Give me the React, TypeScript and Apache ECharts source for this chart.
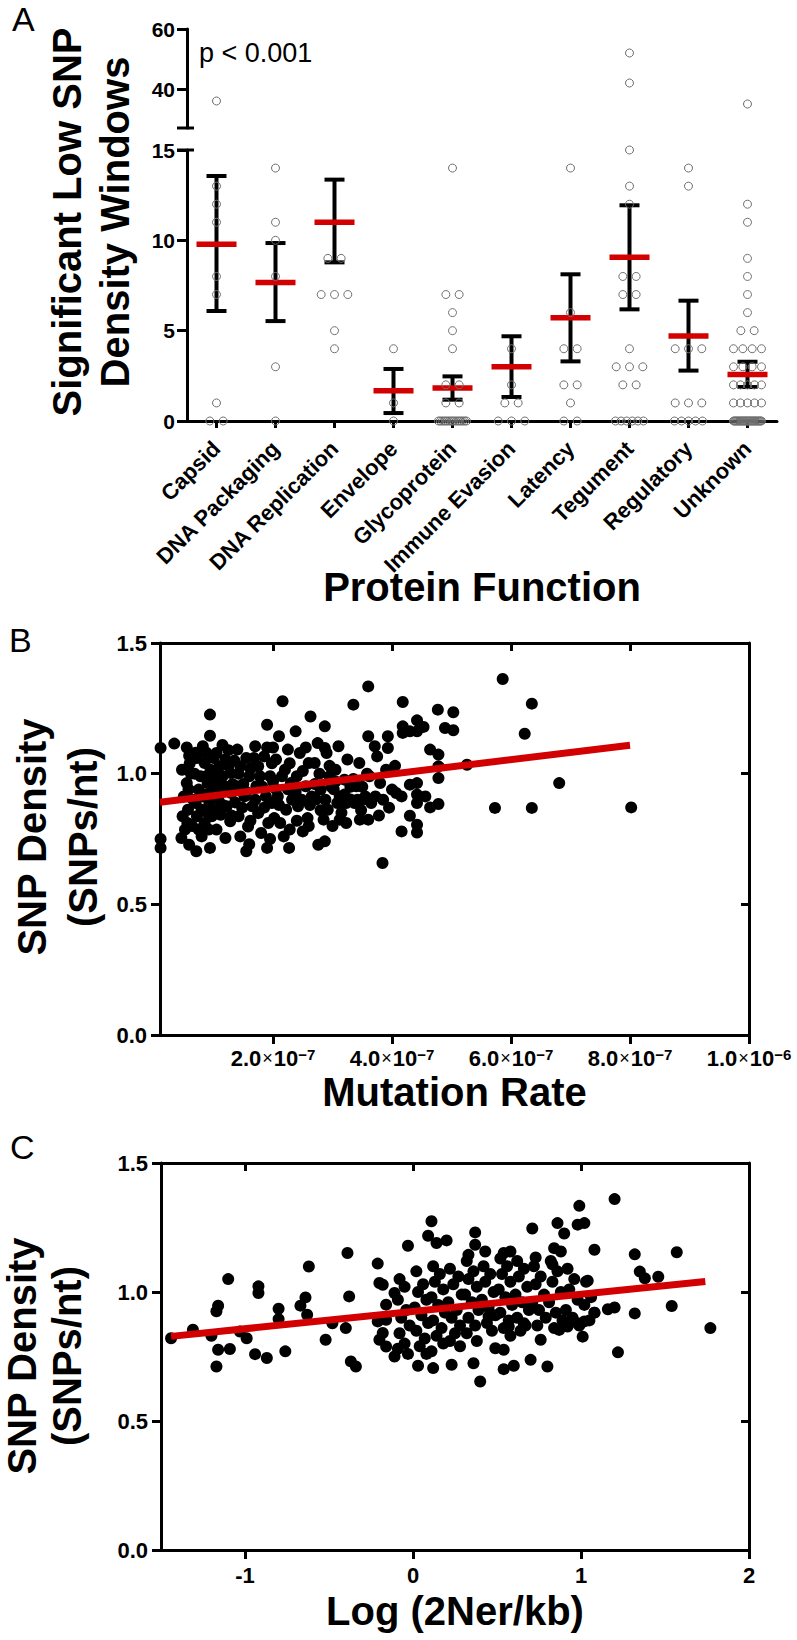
import React, { useEffect, useRef } from 'react';
import * as echarts from 'echarts';

// ---------------- DATA ----------------
const categories = ['Capsid', 'DNA Packaging', 'DNA Replication', 'Envelope', 'Glycoprotein', 'Immune Evasion', 'Latency', 'Tegument', 'Regulatory', 'Unknown'];

const capsid = [36, 13, 12, 11, 8, 7, 1, 0, 0];
const dnaPackaging = [14, 11, 10, 8, 3, 0];
const dnaReplication = [9, 9, 7, 7, 7, 5, 4];
const envelope = [4, 1, 0];
const glycoprotein = [14, 7, 7, 6, 5, 4, 2, 2, 1, 1, 0, 0, 0, 0, 0, 0, 0, 0, 0, 0, 0, 0, 0, 0, 0, 0, 0];
const immuneEvasion = [4, 2, 1, 1, 0, 0, 0];
const latency = [14, 6, 4, 4, 2, 2, 1, 0, 0];
const tegument = [52, 42, 15, 13, 12, 8, 8, 7, 7, 4, 3, 3, 3, 2, 2, 0, 0, 0, 0, 0, 0];
const regulatory = [14, 13, 4, 4, 4, 1, 1, 1, 0, 0, 0, 0, 0];
const unknown = [35, 12, 11, 9, 8, 7, 6, 5, 5, 4, 4, 4, 4, 3, 3, 3, 3, 2, 2, 2, 2, 2, 1, 1, 1, 1, 1,
  0, 0, 0, 0, 0, 0, 0, 0, 0, 0, 0, 0, 0, 0, 0, 0, 0, 0, 0, 0, 0, 0, 0, 0, 0, 0, 0, 0];
const windowCounts = [capsid, dnaPackaging, dnaReplication, envelope, glycoprotein, immuneEvasion, latency, tegument, regulatory, unknown];

const meanValues = [9.78, 7.67, 11.0, 1.67, 1.83, 3.0, 5.72, 9.06, 4.7, 2.58];
const errUpper = [13.56, 9.85, 13.36, 2.88, 2.47, 4.69, 8.12, 11.94, 6.66, 3.28];
const errLower = [6.09, 5.53, 8.78, 0.44, 1.18, 1.33, 3.3, 6.18, 2.79, 1.88];

const aUpperTicks = [40, 60];
const bXTicks = [2, 4, 6, 8, 10]; // units of 1e-7
const cXTicks = [-1, 0, 1, 2];

// Mutation rate (x, in units of 1e-7) vs SNP density
const mutationRatePoints: [number, number][] = [
  [0.11, 1.098], [0.11, 0.75], [0.11, 0.716], [0.34, 1.115], [0.94, 1.226], [0.94, 1.145], [0.82, 1.105], [0.59, 1.069],
  [0.46, 0.754], [0.59, 0.728], [0.71, 0.703], [0.94, 0.716], [1.55, 0.703], [1.9, 0.716], [1.9, 1.187], [2.16, 1.277],
  [2.27, 0.716], [2.38, 1.162], [2.63, 1.219], [2.87, 1.181], [2.87, 1.098], [2.5, 0.779], [2.76, 0.728], [2.87, 0.741],
  [3.35, 1.264], [3.6, 1.334], [3.6, 1.143], [3.84, 0.658], [3.71, 1.105], [3.93, 1.143], [3.93, 1.098], [4.07, 0.926],
  [3.12, 0.824], [3.23, 0.811], [3.46, 0.824], [3.6, 0.824], [3.12, 0.913], [3.23, 0.888], [3.37, 0.888], [3.51, 0.901],
  [5.86, 1.362], [6.35, 1.268], [4.18, 1.274], [4.77, 1.245], [5.03, 1.235], [6.23, 1.153], [4.89, 1.175], [5.03, 1.166],
  [4.42, 1.204], [4.53, 1.179], [4.42, 1.162], [4.18, 1.181], [4.18, 1.156], [4.3, 1.162], [4.64, 1.092], [4.78, 1.073],
  [5.26, 1.034], [4.78, 1.028], [4.78, 0.983], [6.81, 0.964], [4.3, 0.958], [4.42, 0.964], [4.16, 0.913], [4.42, 0.92],
  [4.56, 0.913], [4.42, 0.888], [4.64, 0.871], [4.78, 0.884], [5.73, 0.869], [6.35, 0.869], [8.02, 0.871], [4.3, 0.839],
  [4.42, 0.805], [4.16, 0.779], [4.42, 0.775],
  [0.47, 1.015], [0.55, 0.964], [0.5, 0.913], [0.57, 0.862], [0.48, 0.837], [0.56, 0.811], [0.52, 0.786], [0.6, 1.04], [0.58, 0.94],
  [0.72, 1.06], [0.85, 1.041], [0.95, 1.015], [0.78, 0.99], [0.9, 0.964], [0.75, 0.939], [0.98, 0.939], [0.82, 0.913],
  [0.7, 0.888], [0.93, 0.888], [0.8, 0.862], [0.72, 0.837], [0.97, 0.837], [0.85, 0.811], [0.75, 0.786], [0.92, 0.786],
  [0.8, 0.76], [0.88, 1.08], [1.0, 1.0], [0.68, 1.0],
  [1.05, 1.079], [1.2, 1.054], [1.1, 1.028], [1.28, 1.003], [1.05, 0.977], [1.18, 0.952], [1.3, 0.926], [1.08, 0.901],
  [1.22, 0.875], [1.12, 0.843], [1.28, 0.818], [1.05, 0.786], [1.2, 0.754], [1.15, 0.99], [1.25, 1.09], [1.02, 0.86], [1.32, 0.96],
  [1.4, 1.092], [1.55, 1.06], [1.45, 1.028], [1.6, 0.99], [1.38, 0.952], [1.52, 0.913], [1.65, 0.875], [1.42, 0.837],
  [1.58, 0.798], [1.45, 0.76], [1.62, 1.02], [1.36, 0.89], [1.5, 0.96], [1.6, 0.73],
  [1.7, 1.105], [1.85, 1.066], [1.75, 1.028], [1.95, 0.99], [1.72, 0.952], [1.88, 0.913], [1.98, 0.888], [1.75, 0.849],
  [1.92, 0.811], [1.8, 0.773], [1.7, 0.9], [1.98, 1.04], [1.82, 0.95], [1.95, 0.75],
  [2.1, 1.143], [2.25, 1.092], [2.05, 1.054], [2.2, 1.015], [2.3, 0.964], [2.08, 0.913], [2.22, 0.862], [2.12, 0.811],
  [2.28, 0.786], [2.15, 0.99], [2.05, 0.94], [2.32, 0.9], [2.18, 0.76], [2.02, 0.83],
  [2.45, 1.079], [2.6, 1.041], [2.4, 0.99], [2.55, 0.952], [2.65, 0.913], [2.42, 0.875], [2.58, 0.83], [2.5, 1.01], [2.62, 0.88], [2.38, 0.93],
  [2.75, 1.117], [2.9, 1.079], [2.7, 1.041], [2.95, 0.99], [2.8, 0.939], [2.72, 0.901], [2.92, 0.862], [2.85, 0.824],
  [2.98, 0.95], [2.78, 1.0], [2.88, 0.9],
  [3.1, 1.105], [3.25, 1.054], [3.05, 1.015], [3.2, 0.977], [3.3, 0.901], [3.08, 0.888], [3.15, 0.85], [3.3, 0.95], [3.02, 0.94],
  [3.45, 1.041], [3.62, 0.99], [3.4, 0.952], [3.55, 0.913], [3.65, 0.888], [3.48, 0.86], [3.58, 1.0], [3.42, 0.9],
  [3.75, 1.066], [3.9, 1.015], [3.8, 0.964], [4.0, 0.939], [3.72, 0.913], [3.85, 0.9], [3.95, 0.87], [4.05, 1.03], [3.78, 0.84],
  [0.62, 1.0], [0.66, 0.9], [0.64, 0.8], [0.88, 0.99], [0.86, 0.92], [0.9, 0.85], [1.1, 0.95], [1.15, 0.88], [1.25, 1.03],
  [1.3, 0.84], [1.42, 1.0], [1.48, 0.87], [1.55, 0.93], [1.62, 0.82], [1.68, 1.06], [1.78, 0.99], [1.85, 0.87], [1.9, 1.1],
  [2.0, 0.97], [2.1, 0.88], [2.25, 0.94], [2.28, 1.04], [2.4, 0.82], [2.48, 0.9], [2.55, 1.1], [2.7, 0.96], [2.8, 0.86],
  [2.95, 1.03], [3.05, 0.97], [3.2, 0.92], [3.35, 0.98], [3.5, 0.95], [0.55, 1.1], [0.7, 1.08], [1.0, 1.06], [1.35, 1.05],
  [1.15, 1.11], [2.0, 1.1], [2.6, 0.8], [3.0, 0.8],
];
const mutationFit: [number, number][] = [[0.1, 0.891], [8.0, 1.109]];

// Log(2Ner/kb) vs SNP density
const logNerPoints: [number, number][] = [
  [-1.44, 0.821], [-1.31, 0.854], [-1.2, 0.83], [-1.17, 0.925], [-1.16, 0.947], [-1.17, 0.711], [-1.16, 0.776], [-1.09, 0.779],
  [-1.1, 1.05], [-1.03, 0.847], [-0.99, 0.821], [-0.92, 1.022], [-0.92, 0.996], [-0.94, 0.759], [-0.87, 0.744], [-0.8, 0.935],
  [-0.8, 0.895], [-0.76, 0.77], [-0.67, 0.947], [-0.64, 0.979], [-0.63, 0.912], [-0.62, 1.099], [-0.52, 0.815], [-0.48, 0.879],
  [-0.39, 1.151], [-0.38, 0.983], [-0.4, 0.86], [-0.37, 0.731], [-0.34, 0.711], [-0.21, 1.11], [-0.2, 1.035], [-0.18, 1.028],
  [-0.21, 0.886], [-0.16, 0.892], [-0.16, 0.951], [-0.2, 0.815], [-0.16, 0.789], [-0.18, 0.841], [-0.11, 0.75], [-0.11, 0.996],
  [1.2, 1.36], [0.99, 1.334], [0.98, 1.261], [1.02, 1.267], [0.86, 1.267], [0.9, 1.227], [0.71, 1.246], [0.11, 1.274],
  [0.09, 1.218], [0.14, 1.19], [0.2, 1.2], [0.37, 1.231], [-0.03, 1.179], [0.37, 1.183], [0.33, 1.144], [0.43, 1.157],
  [0.54, 1.151], [0.58, 1.157], [0.84, 1.17], [0.88, 1.157], [0.83, 1.107], [0.73, 1.134], [1.08, 1.164], [1.32, 1.146],
  [1.57, 1.154], [1.35, 1.079], [1.38, 1.053], [1.46, 1.059], [1.04, 1.044], [1.54, 0.946], [1.32, 0.917], [1.77, 0.86],
  [1.22, 0.766], [1.2, 0.94], [1.16, 0.933], [1.08, 0.92], [1.01, 0.827], [0.8, 0.711], [0.7, 0.737], [0.6, 0.714],
  [0.54, 0.701], [0.4, 0.653], [0.36, 0.724], [0.23, 0.718], [0.12, 0.705], [0.03, 0.714], [0.49, 0.782], [0.54, 0.776],
  [0.76, 0.815], [0.45, 0.905], [0.57, 0.866], [0.66, 0.879], [0.87, 0.853], [0.92, 0.866], [0.98, 0.879], [1.02, 0.886],
  [-0.08, 1.05], [-0.05, 1.02], [-0.09, 0.97], [-0.04, 0.93], [-0.07, 0.9], [-0.02, 0.87], [-0.08, 0.84], [-0.05, 0.8], [-0.09, 0.78], [-0.03, 0.76],
  [0.02, 1.08], [0.06, 1.03], [0.03, 1.0], [0.08, 0.97], [0.01, 0.94], [0.05, 0.91], [0.09, 0.88], [0.02, 0.85], [0.07, 0.82], [0.04, 0.79], [0.08, 0.76],
  [0.12, 1.1], [0.16, 1.07], [0.13, 1.04], [0.18, 1.01], [0.11, 0.98], [0.15, 0.95], [0.19, 0.92], [0.12, 0.89], [0.17, 0.86], [0.14, 0.83], [0.18, 0.8], [0.11, 0.77],
  [0.22, 1.09], [0.27, 1.06], [0.24, 1.03], [0.29, 0.99], [0.21, 0.96], [0.26, 0.93], [0.23, 0.9], [0.28, 0.87], [0.25, 0.84], [0.22, 0.81], [0.28, 0.79],
  [0.32, 1.12], [0.36, 1.08], [0.33, 1.05], [0.38, 1.02], [0.31, 0.99], [0.35, 0.96], [0.39, 0.93], [0.33, 0.9], [0.37, 0.87], [0.32, 0.84], [0.38, 0.81],
  [0.42, 1.1], [0.46, 1.07], [0.43, 1.04], [0.48, 1.0], [0.41, 0.97], [0.45, 0.94], [0.49, 0.91], [0.44, 0.88], [0.47, 0.85],
  [0.52, 1.13], [0.56, 1.1], [0.53, 1.07], [0.58, 1.04], [0.51, 1.01], [0.55, 0.98], [0.59, 0.95], [0.52, 0.92], [0.57, 0.89], [0.54, 0.86], [0.58, 0.83],
  [0.62, 1.12], [0.66, 1.09], [0.63, 1.06], [0.68, 1.02], [0.61, 0.99], [0.65, 0.96], [0.69, 0.93], [0.62, 0.9], [0.67, 0.87], [0.64, 0.85],
  [0.72, 1.1], [0.76, 1.06], [0.73, 1.03], [0.78, 0.99], [0.71, 0.96], [0.75, 0.93], [0.79, 0.9], [0.74, 0.87],
  [0.82, 1.12], [0.86, 1.08], [0.83, 1.04], [0.88, 1.0], [0.81, 0.96], [0.85, 0.92], [0.89, 0.89], [0.84, 0.86],
  [0.92, 1.09], [0.96, 1.05], [0.93, 1.01], [0.98, 0.97], [0.91, 0.93], [0.95, 0.9], [0.99, 0.87],
  [1.03, 1.04], [1.06, 0.98], [1.02, 0.95], [1.08, 0.92], [1.05, 0.89],
];
const logNerFit: [number, number][] = [[-1.44, 0.828], [1.74, 1.041]];

// ---------------- LAYOUT / STYLE ----------------
const FONT = '"Liberation Sans", Arial, Helvetica, sans-serif';
const RED = '#d20000';
const A_LEFT = 187, A_RIGHT = 777;
const A_UP_TOP = 29, A_UP_BOTTOM = 128;
const A_LO_TOP = 150, A_LO_BOTTOM = 421;
const B = { left: 160, top: 643, width: 589, height: 392 };
const C = { left: 161, top: 1163, width: 588, height: 387 };
const BREAK_AT = 20;
const PX_PER_CAT = (A_RIGHT - A_LEFT) / categories.length;

function beeswarm(values: number[], idx: number): [number, number][] {
  const counts = new Map<number, number>();
  values.forEach((v) => counts.set(v, (counts.get(v) || 0) + 1));
  const out: [number, number][] = [];
  counts.forEach((n, v) => {
    const sp = n > 1 ? Math.min(13.3, 28 / (n - 1)) : 0;
    for (let k = 0; k < n; k++) out.push([idx + ((k - (n - 1) / 2) * sp) / PX_PER_CAT, v]);
  });
  return out;
}

const axisLineStyle = { onZero: false, lineStyle: { color: '#000', width: 3 } };
const tickStyle = { width: 3, color: '#000' };

function supLabel(v: number) {
  const exp = v >= 10 ? '\u22126' : '\u22127';
  const mant = v >= 10 ? v / 10 : v;
  return `{a|${mant.toFixed(1)}}{x|×}{a|10}{b|${exp}}`;
}

export default function App() {
  const ref = useRef<HTMLDivElement>(null);
  useEffect(() => {
    if (!ref.current) return;
    const chart = echarts.init(ref.current, undefined, { renderer: 'svg' });

    const allDots = windowCounts.flatMap((vals, i) => beeswarm(vals, i));
    const upperDots = allDots.filter((d) => d[1] > BREAK_AT);
    const lowerDots = allDots.filter((d) => d[1] <= BREAK_AT);

    const hollow = {
      type: 'scatter' as const,
      symbol: 'circle',
      symbolSize: 8,
      itemStyle: { color: 'rgba(255,255,255,0)', borderColor: '#6f6f6f', borderWidth: 1, opacity: 1 },
      silent: true,
    };

    const yLabelA = { fontSize: 21, fontWeight: 'bold' as const, color: '#000', fontFamily: FONT, margin: 12 };
    const yLabelBC = { fontSize: 22, fontWeight: 'bold' as const, color: '#000', fontFamily: FONT, margin: 13, formatter: (v: number) => v.toFixed(1) };

    const rotText = (text: string, x: number, y: number) => ({
      type: 'text', x, y, rotation: Math.PI / 2,
      style: { text, fontSize: 40, fontWeight: 'bold', fontFamily: FONT, fill: '#000', align: 'center', verticalAlign: 'middle' },
    });
    const hText = (text: string, x: number, y: number, size: number, weight: string, align = 'center') => ({
      type: 'text', x, y,
      style: { text, fontSize: size, fontWeight: weight, fontFamily: FONT, fill: '#000', align, verticalAlign: 'middle' },
    });

    const option: any = {
      animation: false,
      backgroundColor: '#fff',
      grid: [
        { left: A_LEFT, width: A_RIGHT - A_LEFT, top: A_UP_TOP, height: A_UP_BOTTOM - A_UP_TOP },
        { left: A_LEFT, width: A_RIGHT - A_LEFT, top: A_LO_TOP, height: A_LO_BOTTOM - A_LO_TOP },
        { left: B.left, width: B.width, top: B.top, height: B.height },
        { left: C.left, width: C.width, top: C.top, height: C.height },
      ],
      xAxis: [
        { gridIndex: 0, type: 'value', min: -0.5, max: 9.5, show: false },
        {
          gridIndex: 1, type: 'value', min: -0.5, max: 9.5, position: 'bottom',
          axisLine: axisLineStyle, splitLine: { show: false },
          axisTick: { customValues: categories.map((_, i) => i), length: 7, lineStyle: tickStyle },
          axisLabel: {
            customValues: categories.map((_, i) => i), rotate: 45, margin: 24, fontSize: 22, fontWeight: 'bold',
            fontFamily: FONT, color: '#000', formatter: (v: number) => categories[Math.round(v)],
          },
        },
        {
          gridIndex: 2, type: 'value', min: 0.1, max: 10, position: 'bottom',
          axisLine: axisLineStyle, splitLine: { show: false },
          axisTick: { customValues: bXTicks, length: 9, lineStyle: tickStyle },
          axisLabel: {
            customValues: bXTicks, margin: 12, formatter: supLabel, color: '#000',
            rich: {
              a: { fontSize: 22, fontWeight: 'bold', fontFamily: FONT, color: '#000' },
              x: { fontSize: 18, fontWeight: 'normal', fontFamily: FONT, color: '#000', padding: [0, 1, 0, 1] },
              b: { fontSize: 15, fontWeight: 'bold', fontFamily: FONT, color: '#000', verticalAlign: 'top' },
            },
          },
        },
        {
          gridIndex: 2, type: 'value', min: 0.1, max: 10, position: 'top',
          axisLine: axisLineStyle, splitLine: { show: false }, axisLabel: { show: false },
          axisTick: { customValues: [2, 4, 6, 8], inside: true, length: 8, lineStyle: tickStyle },
        },
        {
          gridIndex: 3, type: 'value', min: -1.5, max: 2, position: 'bottom',
          axisLine: axisLineStyle, splitLine: { show: false },
          axisTick: { customValues: cXTicks, length: 9, lineStyle: tickStyle },
          axisLabel: { customValues: cXTicks, margin: 14, fontSize: 22, fontWeight: 'bold', fontFamily: FONT, color: '#000', formatter: (v: number) => String(v) },
        },
        {
          gridIndex: 3, type: 'value', min: -1.5, max: 2, position: 'top',
          axisLine: axisLineStyle, splitLine: { show: false }, axisLabel: { show: false },
          axisTick: { customValues: [-1, 0, 1], inside: true, length: 8, lineStyle: tickStyle },
        },
      ],
      yAxis: [
        {
          gridIndex: 0, type: 'value', min: 27, max: 60, position: 'left',
          axisLine: { show: true, ...axisLineStyle }, splitLine: { show: false },
          axisTick: { show: true, customValues: aUpperTicks, length: 10, lineStyle: tickStyle },
          axisLabel: { ...yLabelA, customValues: aUpperTicks },
        },
        {
          gridIndex: 1, type: 'value', min: 0, max: 15, interval: 5, position: 'left',
          axisLine: { show: true, ...axisLineStyle }, splitLine: { show: false },
          axisTick: { show: true, length: 10, lineStyle: tickStyle },
          axisLabel: yLabelA,
        },
        {
          gridIndex: 2, type: 'value', min: 0, max: 1.5, interval: 0.5, position: 'left',
          axisLine: { show: true, ...axisLineStyle }, splitLine: { show: false },
          axisTick: { show: true, length: 9, lineStyle: tickStyle },
          axisLabel: yLabelBC,
        },
        {
          gridIndex: 2, type: 'value', min: 0, max: 1.5, position: 'right',
          axisLine: { show: true, ...axisLineStyle }, splitLine: { show: false }, axisLabel: { show: false },
          axisTick: { show: true, inside: true, customValues: [0.5, 1.0], length: 8, lineStyle: tickStyle },
        },
        {
          gridIndex: 3, type: 'value', min: 0, max: 1.5, interval: 0.5, position: 'left',
          axisLine: { show: true, ...axisLineStyle }, splitLine: { show: false },
          axisTick: { show: true, length: 9, lineStyle: tickStyle },
          axisLabel: yLabelBC,
        },
        {
          gridIndex: 3, type: 'value', min: 0, max: 1.5, position: 'right',
          axisLine: { show: true, ...axisLineStyle }, splitLine: { show: false }, axisLabel: { show: false },
          axisTick: { show: true, inside: true, customValues: [0.5, 1.0], length: 8, lineStyle: tickStyle },
        },
      ],
      series: [
        { ...hollow, xAxisIndex: 0, yAxisIndex: 0, data: upperDots },
        { ...hollow, xAxisIndex: 1, yAxisIndex: 1, data: lowerDots },
        {
          type: 'custom', xAxisIndex: 1, yAxisIndex: 1, silent: true,
          encode: { x: 0, y: [1, 2, 3] },
          data: categories.map((_, i) => [i, meanValues[i], errLower[i], errUpper[i]]),
          renderItem: (_params: any, api: any) => {
            const i = api.value(0);
            const pM = api.coord([i, api.value(1)]);
            const pLo = api.coord([i, api.value(2)]);
            const pHi = api.coord([i, api.value(3)]);
            const blk = { stroke: '#000', lineWidth: 4 };
            return {
              type: 'group',
              children: [
                { type: 'line', shape: { x1: pHi[0], y1: pHi[1], x2: pLo[0], y2: pLo[1] }, style: blk },
                { type: 'line', shape: { x1: pHi[0] - 10, y1: pHi[1], x2: pHi[0] + 10, y2: pHi[1] }, style: blk },
                { type: 'line', shape: { x1: pLo[0] - 10, y1: pLo[1], x2: pLo[0] + 10, y2: pLo[1] }, style: blk },
                { type: 'line', shape: { x1: pM[0] - 20, y1: pM[1], x2: pM[0] + 20, y2: pM[1] }, style: { stroke: RED, lineWidth: 5.5 } },
              ],
            };
          },
        },
        {
          type: 'scatter', xAxisIndex: 2, yAxisIndex: 2, symbolSize: 12, silent: true,
          itemStyle: { color: '#000', opacity: 1 }, data: mutationRatePoints,
        },
        {
          type: 'line', xAxisIndex: 2, yAxisIndex: 2, symbol: 'none', silent: true,
          lineStyle: { color: RED, width: 7, opacity: 1 }, data: mutationFit,
        },
        {
          type: 'scatter', xAxisIndex: 4, yAxisIndex: 4, symbolSize: 12, silent: true,
          itemStyle: { color: '#000', opacity: 1 }, data: logNerPoints,
        },
        {
          type: 'line', xAxisIndex: 4, yAxisIndex: 4, symbol: 'none', silent: true,
          lineStyle: { color: RED, width: 7, opacity: 1 }, data: logNerFit,
        },
      ],
      graphic: [
        { type: 'line', shape: { x1: A_LEFT - 10, y1: A_UP_BOTTOM, x2: A_LEFT + 7, y2: A_UP_BOTTOM }, style: { stroke: '#000', lineWidth: 3 } },
        { type: 'line', shape: { x1: A_LEFT - 10, y1: A_LO_TOP, x2: A_LEFT + 7, y2: A_LO_TOP }, style: { stroke: '#000', lineWidth: 3 } },
        hText('A', 12, 19, 34, 'normal', 'left'),
        hText('B', 9, 640, 34, 'normal', 'left'),
        hText('C', 10, 1147, 34, 'normal', 'left'),
        hText('p < 0.001', 199, 53, 27, 'normal', 'left'),
        rotText('Significant Low SNP', 67, 222),
        rotText('Density Windows', 115, 222),
        hText('Protein Function', (A_LEFT + A_RIGHT) / 2, 587, 40, 'bold'),
        rotText('SNP Density', 32, 837),
        rotText('(SNPs/nt)', 83, 837),
        hText('Mutation Rate', B.left + B.width / 2, 1092, 40, 'bold'),
        rotText('SNP Density', 22, 1356),
        rotText('(SNPs/nt)', 67, 1356),
        hText('Log (2Ner/kb)', C.left + C.width / 2, 1611, 40, 'bold'),
      ],
    };

    chart.setOption(option);
    return () => chart.dispose();
  }, []);

  return <div ref={ref} style={{ position: 'absolute', left: 0, top: 0, width: 797, height: 1640, background: '#fff' }} />;
}
